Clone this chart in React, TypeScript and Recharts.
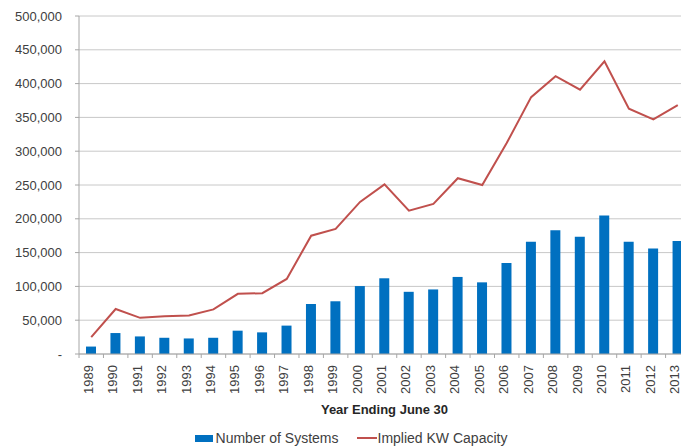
import { ComposedChart, Bar, Line, XAxis, YAxis, CartesianGrid, Legend, Label } from 'recharts';

const years = ['1989', '1990', '1991', '1992', '1993', '1994', '1995', '1996', '1997', '1998', '1999', '2000', '2001',
  '2002', '2003', '2004', '2005', '2006', '2007', '2008', '2009', '2010', '2011', '2012', '2013'];
const systems = [11000, 31000, 26000, 24000, 23000, 24000, 34500, 32000, 42000, 74000, 78000, 100500, 112000,
  92000, 95500, 114000, 106000, 134500, 166000, 183000, 173500, 205000, 166000, 156000, 167000];
const capacity = [25000, 66500, 53500, 56000, 57000, 66000, 89000, 90000, 111000, 175000, 185000, 225000, 251000,
  212000, 222000, 260000, 250000, 312000, 380000, 411000, 391000, 433000, 363000, 347000, 368000];
const yTicks = [0, 50000, 100000, 150000, 200000, 250000, 300000, 350000, 400000, 450000, 500000];

const data = years.map((year, i) => ({ year, systems: systems[i], capacity: capacity[i] }));

const FONT = '"Liberation Sans", Arial, sans-serif';
const TEXT = '#404040';
const BLUE = '#0070c0';
const RED = '#c0504d';

// rotated year labels + the little tick marks between categories
const YearTick = (props: any) => {
  const { x, y, payload } = props;
  const half = 12.2;
  return (
    <g>
      <line x1={x - half} y1={y - 8} x2={x - half} y2={y - 4} stroke="#a6a6a6" />
      <text x={x} y={y} transform={`rotate(-90 ${x} ${y + 3})`} dy="0.35em" textAnchor="end"
        fill={TEXT} fontSize={13} fontFamily={FONT}>
        {payload.value}
      </text>
    </g>
  );
};

const LegendBox = () => (
  <div style={{ display: 'flex', justifyContent: 'center', alignItems: 'center', height: 34, paddingTop: 14,
    paddingLeft: 12, boxSizing: 'border-box', fontFamily: FONT, fontSize: 14, color: TEXT }}>
    <span style={{ display: 'inline-block', width: 18, height: 7, background: BLUE, marginRight: 3 }} />
    <span style={{ marginRight: 18 }}>Number of Systems</span>
    <span style={{ display: 'inline-block', width: 20, height: 2, background: RED, marginRight: 1 }} />
    <span>Implied KW Capacity</span>
  </div>
);

export default function App() {
  return (
    <div style={{ position: 'absolute', left: 0, top: 0, width: 681, height: 448, overflow: 'hidden', background: '#fff' }}>
      <ComposedChart width={700} height={448} data={data} margin={{ top: 16, right: 10, left: 0, bottom: 0 }}>
        <CartesianGrid vertical={false} stroke="#c8c8c8" />
        <XAxis dataKey="year" height={60} tick={<YearTick />} tickLine={false} interval={0}
          axisLine={{ stroke: '#a6a6a6' }}>
          <Label value="Year Ending June 30" position="insideBottom" offset={0}
            style={{ fontFamily: FONT, fontSize: 13, fontWeight: 'bold', fill: '#262626' }} />
        </XAxis>
        <YAxis width={79} domain={[0, 500000]} ticks={yTicks} interval={0} tickSize={4} tickMargin={13}
          axisLine={{ stroke: '#a6a6a6' }} tickLine={{ stroke: '#a6a6a6' }}
          tick={{ fill: TEXT, fontSize: 13, fontFamily: FONT }}
          tickFormatter={(v: number) => (v === 0 ? '-' : v.toLocaleString('en-US'))} />
        <Legend verticalAlign="bottom" height={34} content={<LegendBox />} />
        <Bar dataKey="systems" name="Number of Systems" fill={BLUE} barSize={10} isAnimationActive={false} />
        <Line dataKey="capacity" name="Implied KW Capacity" type="linear" stroke={RED} strokeWidth={2}
          dot={false} isAnimationActive={false} />
      </ComposedChart>
    </div>
  );
}
